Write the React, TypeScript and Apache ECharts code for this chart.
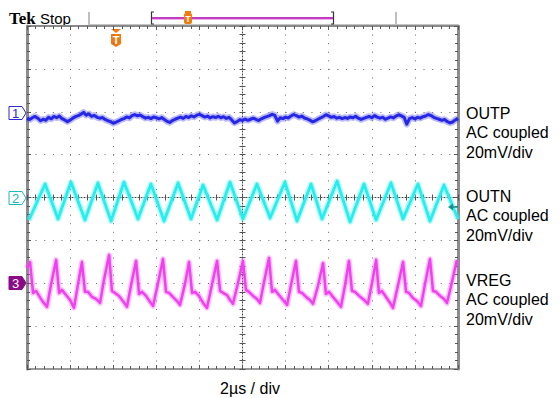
import React, { useEffect, useRef } from "react";
import * as echarts from "echarts";

// Time axis: microseconds (2 µs/div, 10 div). Vertical: mV on screen (20 mV/div, 8 div)
const timeTicks = [0, 2, 4, 6, 8, 10, 12, 14, 16, 18, 20];
const channelNames = ["OUTP", "OUTN", "VREG"];
const channelCoupling = ["AC coupled", "AC coupled", "AC coupled"];
const channelScale = ["20mV/div", "20mV/div", "20mV/div"];
const channelOffsets = [40, 0, -40]; // screen mV of each channel's ground marker

// CH1 (OUTP) sampled trace, µs step, values in mV
const ch1Step = 0.125;
const ch1Values = [
  -3.0, -3.6, -2.8, -2.2, -3.0, -4.2, -3.5, -4.0, -2.6, -3.3,
  -2.2, -2.8, -2.0, -3.2, -3.8, -4.6, -3.9, -3.0, -2.3, -1.8,
  -1.2, -0.3, -1.6, -1.0, -2.2, -1.7, -2.6, -3.0, -2.7, -3.6,
  -4.2, -4.6, -5.4, -4.9, -4.3, -3.6, -3.2, -2.4, -2.9, -1.8,
  -1.3, -1.9, -1.5, -2.3, -3.0, -2.6, -3.2, -2.4, -2.8, -3.3,
  -2.7, -3.6, -4.5, -5.0, -4.1, -3.5, -3.0, -2.5, -3.1, -2.2,
  -2.7, -1.9, -2.4, -1.6, -1.2, -1.8, -2.5, -2.0, -2.9, -2.3,
  -2.7, -2.1, -2.8, -2.3, -3.1, -2.6, -3.8, -5.2, -4.6, -3.7,
  -4.1, -3.4, -4.0, -3.5, -3.0, -3.6, -4.1, -3.3, -2.7, -2.3,
  -1.8, -1.2, -1.7, -4.4, -2.8, -3.2, -2.5, -2.9, -2.0, -1.3,
  -1.8, -2.5, -2.0, -2.9, -3.3, -3.9, -4.7, -4.2, -3.5, -2.9,
  -2.2, -1.4, -1.9, -2.6, -2.2, -3.0, -2.6, -3.2, -2.7, -3.1,
  -2.4, -2.8, -2.1, -3.0, -3.6, -3.1, -2.6, -2.2, -2.8, -1.8,
  -2.5, -3.0, -2.6, -3.5, -3.0, -2.4, -2.9, -2.0, -1.4, -1.9,
  -2.6, -5.8, -3.2, -2.7, -3.3, -2.6, -3.0, -2.3, -2.0, -1.3,
  -1.8, -2.6, -3.1, -3.5, -4.0, -3.6, -4.6, -5.2, -4.8, -3.8,
  -3.0,
];

// CH2 (OUTN) triangle vertices
const ch2Times = [
  0.09, 0.84, 1.44, 2.04, 2.69, 3.29, 3.9, 4.5, 5.15, 5.75, 6.36, 7.01, 7.61,
  8.17, 8.82, 9.42, 10.02, 10.67, 11.28, 11.97, 12.53, 13.18, 13.69, 14.39,
  14.99, 15.64, 16.2, 16.89, 17.45, 18.14, 18.7, 19.35, 20.0,
];
const ch2Values = [
  -10.5, 6.3, -10.0, 7.2, -10.5, 6.8, -11.0, 7.2, -10.0, 6.3, -11.0, 6.8,
  -10.0, 5.8, -10.5, 7.2, -10.0, 6.3, -9.6, 7.2, -11.0, 6.3, -10.0, 7.7,
  -11.4, 6.3, -10.5, 6.8, -10.0, 6.3, -11.0, 5.8, -10.0,
];

// CH3 (VREG) waveform vertices
const ch3Times = [
  0, 0.14, 0.28, 0.42, 0.56, 0.74, 0.93, 1.11, 1.35,
  1.49, 1.62, 1.81, 2.0, 2.18, 2.37, 2.55,
  2.69, 2.83, 3.02, 3.2, 3.39, 3.57, 3.81,
  3.94, 4.08, 4.27, 4.45, 4.64, 4.83, 5.06,
  5.2, 5.34, 5.52, 5.71, 5.85, 6.08, 6.31,
  6.45, 6.59, 6.77, 6.96, 7.1, 7.33, 7.52,
  7.66, 7.8, 7.98, 8.17, 8.35, 8.59, 8.82,
  8.96, 9.1, 9.28, 9.42, 9.56, 9.79, 10.02,
  10.16, 10.3, 10.49, 10.67, 10.81, 11.0, 11.23,
  11.37, 11.51, 11.69, 11.88, 12.07, 12.25, 12.48,
  12.62, 12.76, 12.95, 13.13, 13.27, 13.5, 13.74,
  13.87, 14.01, 14.2, 14.39, 14.57, 14.76, 14.94,
  15.08, 15.22, 15.41, 15.64, 15.82, 16.01, 16.2,
  16.33, 16.47, 16.66, 16.85, 16.98, 17.22, 17.45,
  17.59, 17.73, 17.91, 18.1, 18.28, 18.47, 18.7,
  18.84, 18.98, 19.17, 19.35, 19.49, 19.72, 19.95,
];
const ch3Values = [
  7.1, 9.9, -4.5, -3.6, -5.9, -8.7, -11.0, -0.8, 10.9,
  -4.5, -3.1, -5.5, -7.8, -11.5, -0.3, 9.9,
  -4.0, -4.0, -6.4, -7.3, -9.2, 1.5, 13.2,
  -3.6, -4.5, -5.9, -8.3, -11.0, -0.8, 10.4,
  -5.0, -4.0, -5.9, -8.7, -10.6, 0.1, 11.3,
  -4.0, -4.5, -6.4, -8.3, -10.1, -0.3, 9.9,
  -4.5, -4.0, -5.9, -9.2, -11.5, -0.3, 10.4,
  -3.6, -4.5, -5.5, -7.8, -9.6, 0.1, 10.4,
  -3.1, -4.0, -5.9, -7.3, -9.2, 0.6, 11.8,
  -4.0, -3.1, -5.5, -7.8, -10.1, -0.8, 10.4,
  -4.0, -4.5, -6.4, -7.8, -9.6, -1.3, 9.4,
  -5.0, -4.0, -6.4, -8.7, -11.0, -0.8, 10.4,
  -3.6, -4.0, -5.9, -7.8, -9.6, 0.1, 10.9,
  -4.5, -3.6, -6.4, -9.2, -11.5, -0.8, 9.9,
  -4.0, -4.5, -6.9, -8.3, -10.6, -0.3, 11.3,
  -3.6, -4.0, -5.9, -7.3, -9.2, 0.6, 10.9,
];

const FONT = "'Liberation Sans', Arial, sans-serif";

export default function App() {
  const ref = useRef<HTMLDivElement>(null);

  useEffect(() => {
    if (!ref.current) return;
    const chart = echarts.init(ref.current, undefined, { renderer: "svg" });

    const ch1Data = ch1Values.map((v, i) => [i * ch1Step, v + channelOffsets[0]]);
    const ch2Data = ch2Times.map((t, i) => [t, ch2Values[i] + channelOffsets[1]]);
    const ch3Data = ch3Times.map((t, i) => [t, ch3Values[i] + channelOffsets[2]]);

    const gridW = 431;
    const gridH = 343;
    const baseX = {
      type: "value",
      min: timeTicks[0],
      max: timeTicks[timeTicks.length - 1],
      interval: 2,
      axisLabel: { show: false },
      splitLine: { show: false },
    };
    const baseY = {
      type: "value",
      min: -80,
      max: 80,
      interval: 20,
      axisLabel: { show: false },
      splitLine: { show: false },
    };
    const tickColor = "#555";

    const xAxes: any[] = [
      {
        ...baseX,
        position: "bottom",
        axisLine: { show: true, onZero: false, lineStyle: { color: "#9a9a9a", width: 2 } },
        axisTick: { show: true, inside: true, length: 4, lineStyle: { color: tickColor } },
        minorTick: { show: true, splitNumber: 5, length: 3, lineStyle: { color: tickColor } },
        splitLine: { show: true, lineStyle: { color: "#666", width: 1, type: [1, 7.575] } },
      },
      {
        ...baseX,
        position: "top",
        axisLine: { show: true, onZero: false, lineStyle: { color: "#8a8a8a", width: 2 } },
        axisTick: { show: true, inside: true, length: 4, lineStyle: { color: tickColor } },
        minorTick: { show: true, splitNumber: 5, length: 3, lineStyle: { color: tickColor } },
      },
      {
        ...baseX,
        position: "bottom",
        offset: -gridH / 2,
        axisLine: { show: true, onZero: false, lineStyle: { color: "#444", width: 1, type: [1, 2] } },
        axisTick: { show: true, inside: true, length: 3, lineStyle: { color: tickColor } },
        minorTick: { show: true, splitNumber: 5, length: 3, lineStyle: { color: tickColor } },
      },
      {
        ...baseX,
        position: "bottom",
        offset: -gridH / 2,
        axisLine: { show: false, onZero: false },
        axisTick: { show: true, inside: false, length: 3, lineStyle: { color: tickColor } },
        minorTick: { show: true, splitNumber: 5, length: 3, lineStyle: { color: tickColor } },
      },
    ];
    const yAxes: any[] = [
      {
        ...baseY,
        position: "left",
        axisLine: { show: true, onZero: false, lineStyle: { color: "#8c8c8c", width: 3 } },
        axisTick: { show: true, inside: true, length: 4, lineStyle: { color: tickColor } },
        minorTick: { show: true, splitNumber: 5, length: 3, lineStyle: { color: tickColor } },
        splitLine: { show: true, lineStyle: { color: "#666", width: 1, type: [1, 7.62] } },
      },
      {
        ...baseY,
        position: "right",
        axisLine: { show: true, onZero: false, lineStyle: { color: "#8c8c8c", width: 3 } },
        axisTick: { show: true, inside: true, length: 4, lineStyle: { color: tickColor } },
        minorTick: { show: true, splitNumber: 5, length: 3, lineStyle: { color: tickColor } },
      },
      {
        ...baseY,
        position: "left",
        offset: -gridW / 2,
        axisLine: { show: true, onZero: false, lineStyle: { color: "#444", width: 1, type: [1, 2] } },
        axisTick: { show: true, inside: true, length: 3, lineStyle: { color: tickColor } },
        minorTick: { show: true, splitNumber: 5, length: 3, lineStyle: { color: tickColor } },
      },
      {
        ...baseY,
        position: "left",
        offset: -gridW / 2,
        axisLine: { show: false, onZero: false },
        axisTick: { show: true, inside: false, length: 3, lineStyle: { color: tickColor } },
        minorTick: { show: true, splitNumber: 5, length: 3, lineStyle: { color: tickColor } },
      },
    ];

    const trace = (data: number[][], color: string, glow: string, w: number, gw: number) => [
      {
        type: "line",
        data,
        showSymbol: false,
        silent: true,
        lineStyle: { color: glow, width: gw, join: "round" },
        z: 3,
      },
      {
        type: "line",
        data,
        showSymbol: false,
        silent: true,
        lineStyle: { color, width: w, join: "round" },
        z: 4,
      },
    ];

    const rightTexts: any[] = [];
    const rightY = [113, 196, 280];
    channelNames.forEach((name, i) => {
      [name, channelCoupling[i], channelScale[i]].forEach((t, j) => {
        rightTexts.push({
          type: "text",
          x: 466,
          y: rightY[i] + j * 19.5,
          style: {
            text: t,
            font: `16px ${FONT}`,
            fill: "#000",
            textVerticalAlign: "middle",
            verticalAlign: "middle",
          },
        });
      });
    });

    const marker = (y: number, label: string, color: string, filled: boolean) => [
      {
        type: "polygon",
        shape: {
          points: [
            [9, y - 6.5],
            [22, y - 6.5],
            [26, y],
            [22, y + 6.5],
            [9, y + 6.5],
          ],
        },
        style: { fill: filled ? color : "#fff", stroke: color, lineWidth: 1 },
        z: 10,
      },
      {
        type: "text",
        x: 15.5,
        y: y + 0.5,
        style: {
          text: label,
          font: `13px ${FONT}`,
          fill: filled ? "#fff" : color,
          textAlign: "center",
          align: "center",
          textVerticalAlign: "middle",
          verticalAlign: "middle",
        },
        z: 11,
      },
    ];

    const graphics: any[] = [
      {
        type: "text",
        x: 9,
        y: 18,
        style: {
          text: "Tek",
          font: "bold 17px 'Liberation Serif', serif",
          fill: "#000",
          textVerticalAlign: "middle",
          verticalAlign: "middle",
        },
      },
      {
        type: "text",
        x: 40,
        y: 18,
        style: {
          text: "Stop",
          font: `15px ${FONT}`,
          fill: "#000",
          textVerticalAlign: "middle",
          verticalAlign: "middle",
        },
      },
      { type: "line", shape: { x1: 89, y1: 12, x2: 89, y2: 25 }, style: { stroke: "#aaa", lineWidth: 1.5 } },
      { type: "line", shape: { x1: 396, y1: 12, x2: 396, y2: 25 }, style: { stroke: "#aaa", lineWidth: 1.5 } },
      { type: "line", shape: { x1: 89, y1: 25, x2: 458, y2: 25 }, style: { stroke: "#c4c4c4", lineWidth: 2 } },
      // record bracket
      { type: "polyline", shape: { points: [[154, 12], [151.5, 12], [151.5, 24], [154, 24]] }, style: { stroke: "#333", lineWidth: 1.2, fill: null } },
      { type: "polyline", shape: { points: [[331, 12], [333.5, 12], [333.5, 24], [331, 24]] }, style: { stroke: "#333", lineWidth: 1.2, fill: null } },
      { type: "line", shape: { x1: 152, y1: 19.5, x2: 333, y2: 19.5 }, style: { stroke: "#f0b0f0", lineWidth: 1 } },
      { type: "line", shape: { x1: 152, y1: 18, x2: 333, y2: 18 }, style: { stroke: "#c03cc0", lineWidth: 2 } },
      // small trigger position marker
      { type: "rect", shape: { x: 185, y: 11, width: 6, height: 2 }, style: { fill: "#f07a10" } },
      { type: "rect", shape: { x: 184, y: 13, width: 8, height: 11, r: 2 }, style: { fill: "#f07a10" } },
      {
        type: "text",
        x: 188,
        y: 18.5,
        style: { text: "T", font: `bold 9px ${FONT}`, fill: "#fff", textAlign: "center", align: "center", textVerticalAlign: "middle", verticalAlign: "middle" },
      },
      // big trigger marker
      { type: "polygon", shape: { points: [[111, 29], [121, 29], [116, 33]] }, style: { fill: "#f07a10" } },
      { type: "polygon", shape: { points: [[111, 34], [121, 34], [121, 44], [116, 47], [111, 44]] }, style: { fill: "#f07a10" } },
      {
        type: "text",
        x: 116,
        y: 40,
        style: { text: "T", font: `bold 11px ${FONT}`, fill: "#fff", textAlign: "center", align: "center", textVerticalAlign: "middle", verticalAlign: "middle" },
      },
      // trigger level arrow on right
      { type: "polygon", shape: { points: [[448, 207], [453, 203.5], [453, 210.5]] }, style: { fill: "#1a8f8f" }, z: 10 },
      { type: "line", shape: { x1: 453, y1: 207, x2: 458, y2: 207 }, style: { stroke: "#1a8f8f", lineWidth: 1.5 }, z: 10 },
      ...marker(113, "1", "#2a2ad0", false),
      ...marker(198, "2", "#20b8b8", false),
      ...marker(283, "3", "#8a0a8a", true),
      ...rightTexts,
      {
        type: "text",
        x: 250,
        y: 388,
        style: {
          text: "2µs / div",
          font: `16px ${FONT}`,
          fill: "#000",
          textAlign: "center",
          align: "center",
          textVerticalAlign: "middle",
          verticalAlign: "middle",
        },
      },
    ];

    chart.setOption({
      animation: false,
      backgroundColor: "#fff",
      grid: { left: 27, top: 26, width: gridW, height: gridH, containLabel: false },
      xAxis: xAxes,
      yAxis: yAxes,
      series: [
        ...trace(ch1Data, "#2626e6", "rgba(80,80,245,0.4)", 3, 6.5),
        ...trace(ch2Data, "#26eeee", "rgba(60,242,242,0.4)", 2.8, 5.5),
        ...trace(ch3Data, "#f040f0", "rgba(245,90,245,0.38)", 2.5, 5.5),
      ],
      graphic: graphics,
    });

    return () => chart.dispose();
  }, []);

  return (
    <div
      ref={ref}
      style={{ position: "fixed", left: 0, top: 0, width: 560, height: 398, background: "#fff" }}
    />
  );
}
